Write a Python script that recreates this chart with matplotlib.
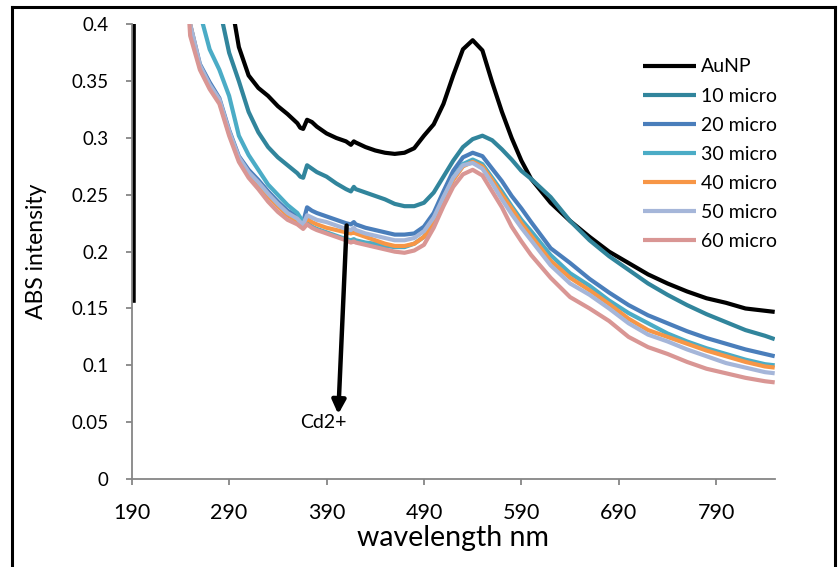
import matplotlib
matplotlib.use("Agg")
import matplotlib.pyplot as plt
from matplotlib import font_manager
from matplotlib.lines import Line2D

names = {f.name for f in font_manager.fontManager.ttflist}
MAIN = "Lato" if "Lato" in names else "DejaVu Sans"
NARROW = "Liberation Sans Narrow" if "Liberation Sans Narrow" in names else MAIN

wavelength = [192, 192.5, 200, 250, 260, 270, 280, 290, 300, 310, 320, 330, 340, 350,
              360, 363, 366, 370, 375, 380, 390, 400, 410, 415, 418, 420, 430, 440,
              450, 460, 470, 480, 490, 500, 510, 520, 530, 540, 550, 560, 570, 580,
              590, 600, 620, 640, 660, 680, 700, 720, 740, 760, 780, 800, 820, 840, 850]

aunp = [0.155, 1.2, 1.0, 0.6, 0.55, 0.5, 0.47, 0.43, 0.38, 0.355, 0.344, 0.337, 0.328, 0.321,
        0.313, 0.309, 0.308, 0.316, 0.314, 0.310, 0.304, 0.300, 0.297, 0.294, 0.297, 0.296, 0.292, 0.289,
        0.287, 0.286, 0.287, 0.291, 0.302, 0.312, 0.330, 0.355, 0.378, 0.386, 0.377, 0.349, 0.323, 0.300,
        0.280, 0.264, 0.243, 0.227, 0.213, 0.200, 0.190, 0.180, 0.172, 0.165, 0.159, 0.155, 0.150, 0.148, 0.147]

micro10 = [1.2, 1.2, 1.1, 0.65, 0.56, 0.48, 0.415, 0.375, 0.350, 0.323, 0.305, 0.292, 0.283, 0.276,
           0.269, 0.266, 0.265, 0.276, 0.273, 0.270, 0.266, 0.260, 0.255, 0.253, 0.257, 0.255, 0.252, 0.249,
           0.246, 0.242, 0.240, 0.240, 0.243, 0.252, 0.266, 0.280, 0.292, 0.299, 0.302, 0.298, 0.290, 0.281,
           0.271, 0.264, 0.248, 0.227, 0.210, 0.196, 0.184, 0.172, 0.162, 0.153, 0.145, 0.138, 0.131, 0.126, 0.123]

micro20 = [1.2, 1.2, 1.1, 0.40, 0.365, 0.349, 0.335, 0.307, 0.284, 0.272, 0.263, 0.253, 0.244, 0.236,
           0.231, 0.228, 0.226, 0.239, 0.236, 0.234, 0.231, 0.228, 0.225, 0.224, 0.226, 0.224, 0.221, 0.219,
           0.217, 0.215, 0.215, 0.216, 0.222, 0.234, 0.253, 0.271, 0.283, 0.287, 0.284, 0.273, 0.262, 0.249,
           0.238, 0.226, 0.203, 0.190, 0.176, 0.164, 0.153, 0.144, 0.137, 0.130, 0.124, 0.119, 0.114, 0.110, 0.108]

micro30 = [1.2, 1.2, 1.1, 0.47, 0.41, 0.378, 0.360, 0.337, 0.302, 0.285, 0.272, 0.259, 0.250, 0.241,
           0.234, 0.230, 0.226, 0.226, 0.222, 0.220, 0.217, 0.214, 0.211, 0.210, 0.211, 0.210, 0.208, 0.207,
           0.205, 0.204, 0.204, 0.207, 0.213, 0.227, 0.247, 0.265, 0.277, 0.281, 0.277, 0.265, 0.253, 0.240,
           0.228, 0.218, 0.197, 0.181, 0.170, 0.157, 0.146, 0.137, 0.128, 0.121, 0.115, 0.110, 0.105, 0.101, 0.100]

micro40 = [1.2, 1.2, 1.1, 0.40, 0.362, 0.345, 0.332, 0.304, 0.281, 0.268, 0.259, 0.249, 0.240, 0.232,
           0.227, 0.224, 0.222, 0.229, 0.226, 0.224, 0.221, 0.219, 0.217, 0.216, 0.217, 0.216, 0.213, 0.210,
           0.207, 0.205, 0.205, 0.207, 0.213, 0.226, 0.245, 0.263, 0.275, 0.279, 0.275, 0.263, 0.250, 0.238,
           0.225, 0.214, 0.192, 0.177, 0.166, 0.154, 0.141, 0.131, 0.125, 0.119, 0.113, 0.108, 0.103, 0.099, 0.098]

micro50 = [1.2, 1.2, 1.1, 0.40, 0.364, 0.347, 0.334, 0.306, 0.283, 0.270, 0.261, 0.251, 0.242, 0.234,
           0.229, 0.226, 0.224, 0.232, 0.230, 0.228, 0.226, 0.223, 0.220, 0.219, 0.221, 0.219, 0.216, 0.214,
           0.212, 0.210, 0.210, 0.212, 0.218, 0.230, 0.248, 0.265, 0.276, 0.278, 0.273, 0.260, 0.246, 0.233,
           0.221, 0.210, 0.188, 0.172, 0.162, 0.150, 0.137, 0.127, 0.121, 0.114, 0.108, 0.102, 0.098, 0.094, 0.093]

micro60 = [1.2, 1.2, 1.1, 0.39, 0.360, 0.343, 0.330, 0.302, 0.279, 0.265, 0.255, 0.244, 0.235, 0.228,
           0.224, 0.222, 0.220, 0.224, 0.221, 0.219, 0.216, 0.213, 0.210, 0.208, 0.209, 0.208, 0.206, 0.204,
           0.202, 0.200, 0.199, 0.201, 0.206, 0.221, 0.240, 0.257, 0.268, 0.272, 0.267, 0.253, 0.239, 0.222,
           0.209, 0.197, 0.177, 0.160, 0.150, 0.139, 0.125, 0.116, 0.110, 0.103, 0.097, 0.093, 0.089, 0.086, 0.085]

labels = ["AuNP", "10 micro", "20 micro", "30 micro", "40 micro", "50 micro", "60 micro"]
colors = ["#000000", "#31859C", "#4A7EBB", "#4BACC6", "#F79646", "#A5B6D9", "#D99694"]
series = [aunp, micro10, micro20, micro30, micro40, micro50, micro60]

xticks = [190, 290, 390, 490, 590, 690, 790]
yticks = [0, 0.05, 0.1, 0.15, 0.2, 0.25, 0.3, 0.35, 0.4]
ytick_labels = ["0", "0.05", "0.1", "0.15", "0.2", "0.25", "0.3", "0.35", "0.4"]

W, H = 839, 567
fig = plt.figure(figsize=(W / 100, H / 100), dpi=100)
ax = fig.add_axes([131.7 / W, 1 - 479 / H, (774.7 - 131.7) / W, (479 - 24.3) / H])

handles = []
for vals, lab, col in zip(series, labels, colors):
    h, = ax.plot(wavelength, vals, color=col, lw=3.0, label=lab,
                 solid_joinstyle="round", solid_capstyle="butt")
    handles.append(h)

ax.set_xlim(190, 850)
ax.set_ylim(0, 0.4)
ax.set_xticks(xticks)
ax.set_xticklabels([str(t) for t in xticks], fontfamily=NARROW, fontsize=15.5)
ax.set_yticks(yticks)
ax.set_yticklabels(ytick_labels, fontfamily=MAIN, fontsize=13.5)

for s in ["top", "right"]:
    ax.spines[s].set_visible(False)
for s in ["left", "bottom"]:
    ax.spines[s].set_color("#868686")
    ax.spines[s].set_linewidth(1.3)
ax.tick_params(axis="both", colors="#868686", length=4.5, width=1.3, labelcolor="black")
ax.tick_params(axis="y", pad=12)
ax.tick_params(axis="x", pad=13)

ax.set_xlabel("wavelength nm", fontfamily=NARROW, fontsize=20.5, labelpad=1)
ax.set_ylabel("ABS intensity", fontfamily=MAIN, fontsize=16.5, labelpad=18)

ax.annotate("", xy=(402, 0.057), xytext=(410.6, 0.223),
            arrowprops=dict(arrowstyle="-|>", lw=3.2, color="black", mutation_scale=20,
                            shrinkA=0, shrinkB=0))
ax.text(387, 0.050, "Cd2+", ha="center", va="center", fontfamily=NARROW, fontsize=14)

fig.legend(handles=handles, labels=labels, loc="upper left",
           bbox_to_anchor=(642.7 / W, 1 - 58.5 / H), bbox_transform=fig.transFigure,
           frameon=False, borderpad=0, borderaxespad=0, handlelength=2.75,
           handletextpad=0.25, labelspacing=0.62,
           prop=font_manager.FontProperties(family=MAIN, size=14))

# outer frame
bx0, by1, bx1 = 11.7 / W, 1 - 6.7 / H, 835 / W
fig.add_artist(Line2D([bx0, bx0], [0, by1], transform=fig.transFigure, color="black", lw=2.2))
fig.add_artist(Line2D([bx0, bx1], [by1, by1], transform=fig.transFigure, color="black", lw=2.2))
fig.add_artist(Line2D([bx1, bx1], [by1, 0], transform=fig.transFigure, color="black", lw=2.2))

fig.savefig("out.png", dpi=100)
